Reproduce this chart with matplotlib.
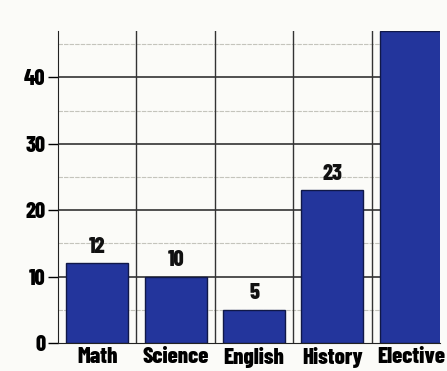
import numpy as np
import matplotlib
matplotlib.use("Agg")
from matplotlib import pyplot as plt

subjects = ["Math", "Science", "English", "History", "Elective"]
counts = [12, 10, 5, 23, 47]
labels = ["12", "10", "5", "23", ""]
yticks = [0, 10, 20, 30, 40]

plt.rcParams['font.family'] = ['Barlow Condensed', 'Roboto Condensed', 'DejaVu Sans']
plt.rcParams['font.weight'] = 800

fig = plt.figure(figsize=(4.47, 3.71), dpi=100)
fig.patch.set_facecolor('#fbfbf8')
ax = fig.add_axes([0.130, 0.0755, 0.854, 0.841])
ax.set_facecolor('#fbfbf8')

x = np.arange(len(subjects))

# grid: light minor lines every 5, dark major every 10, verticals between bars
for v in [5, 15, 25, 35, 45]:
    ax.axhline(v, color='#c4c4bc', lw=0.8, ls=(0, (4, 1)), zorder=0)
for v in yticks[1:]:
    ax.axhline(v, color='#222222', lw=1.1, zorder=0)
for b in x[1:] - 0.5:
    ax.axvline(b, color='#333333', lw=1.0, zorder=0)

bars = ax.bar(x, counts, width=0.79, color='#23359c', edgecolor='#101848',
              linewidth=1.0, zorder=2)
for rect, lab in zip(bars, labels):
    if lab:
        ax.text(rect.get_x() + rect.get_width() / 2, rect.get_height() + 1.0, lab,
                ha='center', va='bottom', fontsize=16, fontweight=800, color='#111111')

ax.set_xlim(-0.5, 4.37)
ax.set_ylim(0, 47)
ax.set_yticks(yticks)
ax.set_yticklabels([str(v) for v in yticks], fontsize=16, fontweight=800)
ax.set_xticks(x)
ax.set_xticklabels(subjects, fontsize=16.5, fontweight=800)
ax.tick_params(axis='x', length=0, pad=3)
ax.tick_params(axis='y', length=7, width=1.0, pad=2)

for s in ['top', 'right']:
    ax.spines[s].set_visible(False)
ax.spines['left'].set_color('#222222')
ax.spines['bottom'].set_color('#222222')

fig.savefig('out.png', dpi=100, facecolor=fig.get_facecolor())
